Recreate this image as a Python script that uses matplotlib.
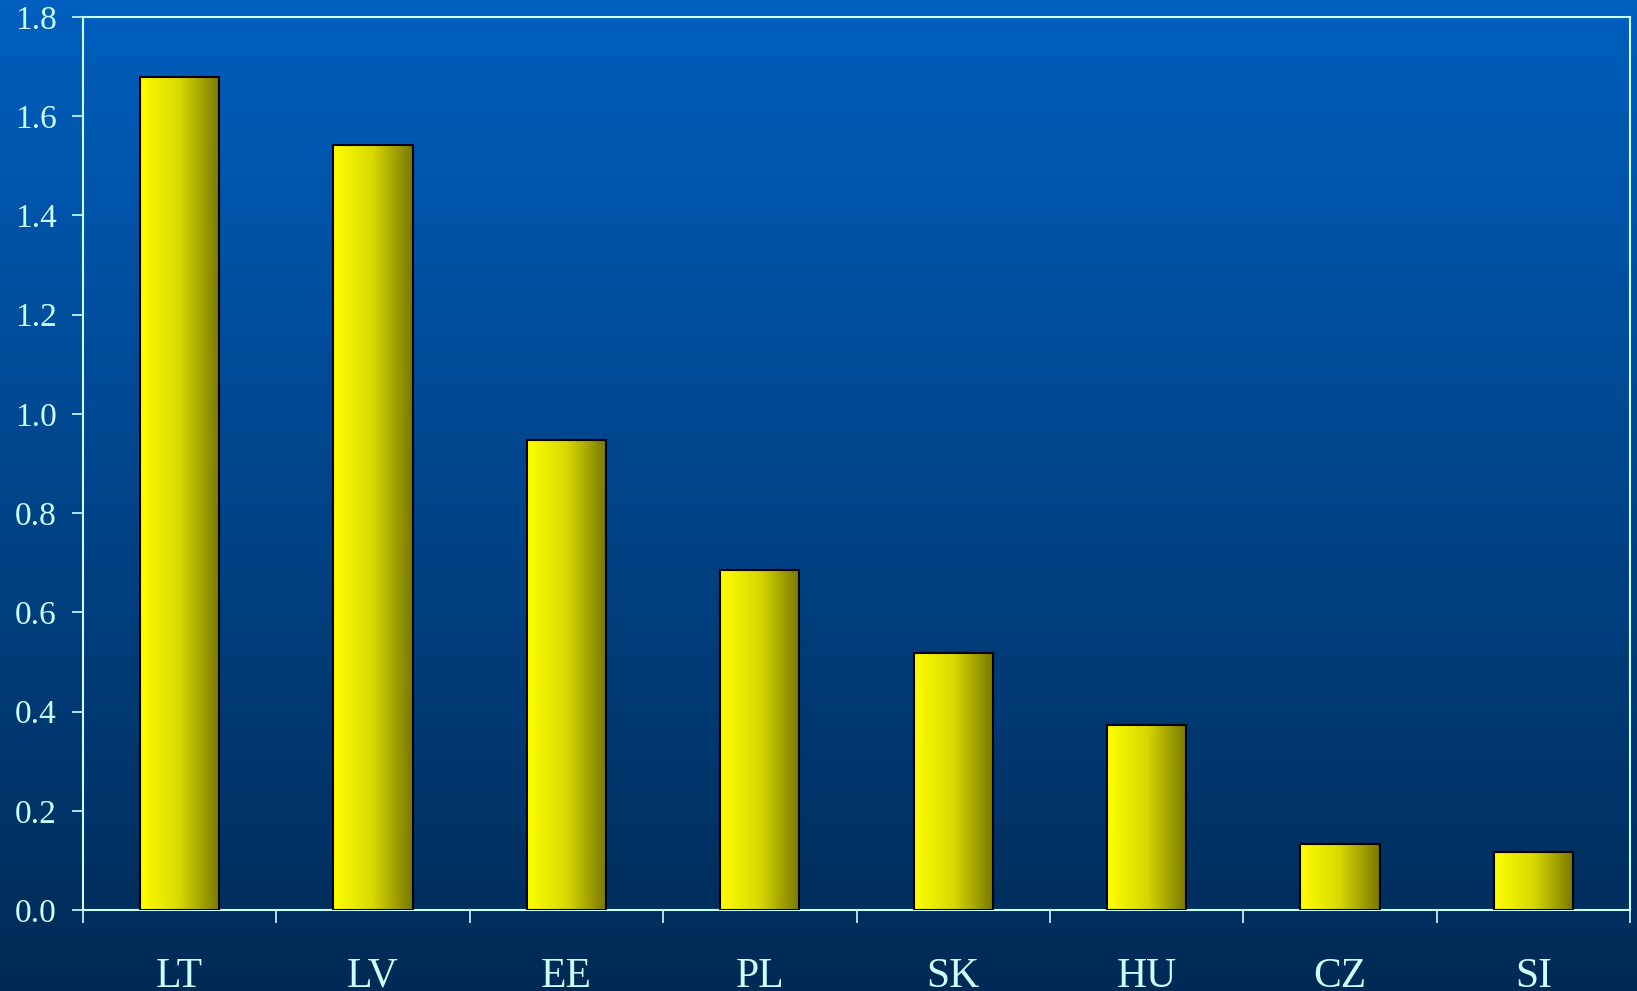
import numpy as np
import matplotlib.pyplot as plt
from matplotlib.colors import LinearSegmentedColormap

countries = ["LT", "LV", "EE", "PL", "SK", "HU", "CZ", "SI"]
values = [1.68, 1.542, 0.948, 0.685, 0.519, 0.372, 0.134, 0.116]
yticks = [0.0, 0.2, 0.4, 0.6, 0.8, 1.0, 1.2, 1.4, 1.6, 1.8]

text_col = "#CCFFFF"
plt.rcParams["font.family"] = ["Liberation Serif", "DejaVu Serif"]

fig = plt.figure(figsize=(16.37, 9.91), dpi=100)

# vertical blue gradient behind everything
bg = fig.add_axes([0, 0, 1, 1], zorder=-10)
bg_cmap = LinearSegmentedColormap.from_list("bg", ["#002A55", "#005FBF"])
bg.imshow(np.linspace(0, 1, 256).reshape(-1, 1), aspect="auto", cmap=bg_cmap,
          origin="lower", extent=[0, 1, 0, 1])
bg.set_axis_off()

W, H = 1637, 991
left, right, top, bottom = 83, 1630, 17, 910
ax = fig.add_axes([left / W, 1 - bottom / H, (right - left) / W, (bottom - top) / H])
ax.patch.set_alpha(0)

x = np.arange(len(countries))
bars = ax.bar(x, values, width=0.41, color="none", edgecolor="black",
              linewidth=1.5, zorder=3)

# yellow -> olive horizontal shading on each bar
bar_cmap = LinearSegmentedColormap.from_list("bar", ["#FFFF00", "#D8D800", "#777700"])
grad = np.linspace(0, 1, 256).reshape(1, -1)
for b in bars:
    x0, w, h = b.get_x(), b.get_width(), b.get_height()
    im = ax.imshow(grad, aspect="auto", cmap=bar_cmap,
                   extent=[x0, x0 + w, 0, h], zorder=2)
    im.set_clip_path(b)

ax.set_xlim(-0.5, len(countries) - 0.5)
ax.set_ylim(0, 1.8)

for s in ax.spines.values():
    s.set_color(text_col)
    s.set_linewidth(1.5)

ax.set_yticks(yticks)
ax.set_yticklabels([f"{v:.1f}" for v in yticks])
ax.tick_params(axis="y", colors=text_col, labelcolor=text_col, length=8,
               width=1.2, labelsize=24, pad=11)

# category labels centred, tick marks between categories
ax.set_xticks(x)
ax.set_xticklabels(countries)
ax.set_xticks(np.arange(-0.5, len(countries)), minor=True)
ax.tick_params(axis="x", which="major", length=0, labelsize=30,
               labelcolor=text_col, pad=34)
ax.tick_params(axis="x", which="minor", length=9, width=1.2, color=text_col)

fig.savefig("out.png", dpi=100)
